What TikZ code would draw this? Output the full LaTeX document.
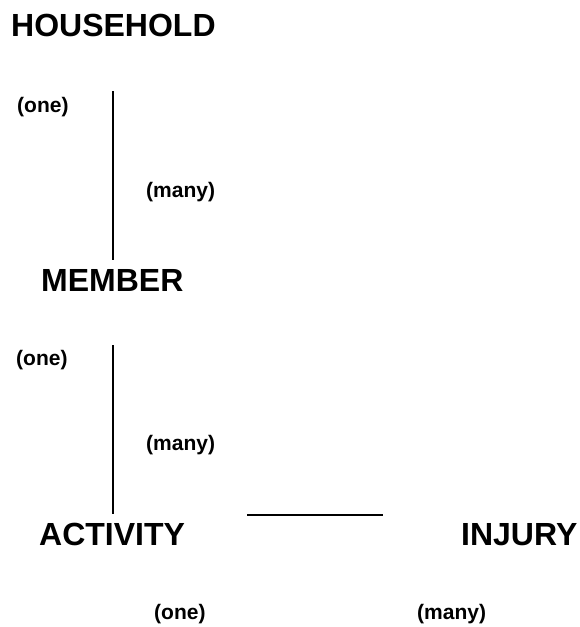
\documentclass[tikz,border=0pt]{standalone}
\usepackage{fontspec}
\setmainfont{Liberation Sans}
\usepackage{tikz}
\usetikzlibrary{positioning}

\begin{document}
\begin{tikzpicture}[
      x=1pt, y=-1pt,
      entity/.style={anchor=base west, inner sep=0pt,
        font=\bfseries\fontsize{32}{36}\selectfont},
      card/.style={anchor=base west, inner sep=0pt,
        font=\bfseries\fontsize{21}{24}\selectfont},
      link/.style={line width=2pt, black},
    ]
    \useasboundingbox (0,0) rectangle (579,627);

    \node[entity] (household) at (11,36)  {HOUSEHOLD};
    \node[entity] (member)    at (41,291) {MEMBER};
    \node[entity] (activity)  at (39,545) {ACTIVITY};
    \node[entity] (injury)    at (461,545) {INJURY};

    \node[card] (hhone)   at (17,112)  {(one)};
    \node[card] (hhmany)  at (146,197) {(many)};
    \node[card] (memone)  at (16,365)  {(one)};
    \node[card] (memmany) at (146,450) {(many)};
    \node[card] (actone)  at (154,619) {(one)};
    \node[card] (injmany) at (417,619) {(many)};

    % free ends of the relationship lines
    \coordinate (hhtop)  at (113,91);
    \coordinate (hhbot)  at (113,260);
    \coordinate (memtop) at (113,345);
    \coordinate (membot) at (113,514);
    \coordinate (actend) at (247,515);
    \coordinate (injend) at (383,515);

    \draw[link] (hhtop) -- (hhbot);
    \draw[link] (memtop) -- (membot);
    \draw[link] (actend) -- (injend);
  \end{tikzpicture}
\end{document}
